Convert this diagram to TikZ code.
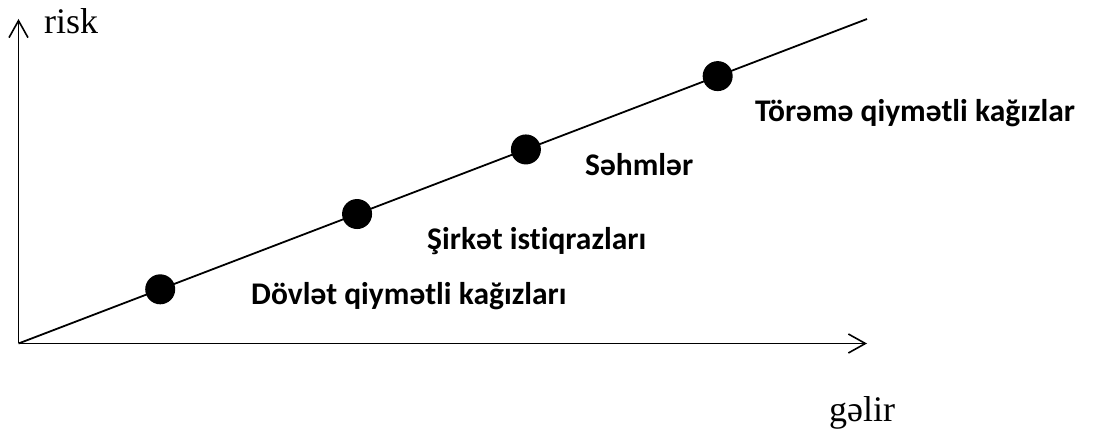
\documentclass[tikz,border=0pt]{standalone}
\usepackage{fontspec}
\setmainfont{Liberation Serif}
\newfontfamily\lblfont[Ligatures=NoCommon]{Carlito}
\usetikzlibrary{arrows.meta,calc}
\definecolor{LineClr}{rgb}{0,0,0}

\tikzset{
  axis/.style={line width=1.8pt,color=LineClr,-{Straight Barb[length=17pt,width=19pt,line width=1.6pt]}},
  trend/.style={line width=1.8pt,color=LineClr},
  asset/.style={anchor=base west,inner sep=0pt,font=\lblfont\bfseries\fontsize{31.5}{34}\selectfont},
  axlabel/.style={anchor=base west,inner sep=0pt,font=\fontsize{36}{40}\selectfont}
}

\begin{document}
\begin{tikzpicture}[x=1pt,y=-1pt]
\useasboundingbox (0,0) rectangle (1098,430);

\coordinate (O) at (18.5,343.5);
\coordinate (Y) at (18.5,19);
\coordinate (X) at (867,343.5);
\coordinate (E) at (867,19);

\coordinate (P1) at ($(O)!0.167!(E)$);
\coordinate (P2) at ($(O)!0.399!(E)$);
\coordinate (P3) at ($(O)!0.598!(E)$);
\coordinate (P4) at ($(O)!0.824!(E)$);

\draw[axis] (O) -- (Y);
\draw[axis] (O) -- (X);
\draw[trend] (O) -- (E);

\fill[LineClr] (P1) circle (15);
\fill[LineClr] (P2) circle (15);
\fill[LineClr] (P3) circle (15);
\fill[LineClr] (P4) circle (15);

\node[asset] (A1) at (251,305) {Dövlət qiymətli kağızları};
\node[asset] (A2) at (427,250) {Şirkət istiqrazları};
\node[asset] (A3) at (585,176) {Səhmlər};
\node[asset] (A4) at (755,122) {Törəmə qiymətli kağızlar};

\node[axlabel] (risk) at (44,34) {risk};
\node[axlabel] (gelir) at (829,421) {gəlir};

\end{tikzpicture}
\end{document}
